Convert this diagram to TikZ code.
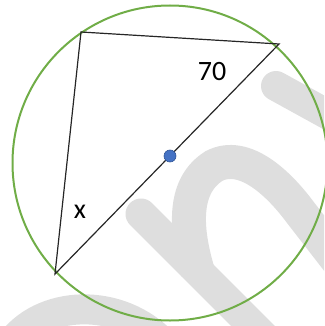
\documentclass[tikz,border=0pt]{standalone}
\usepackage{fontspec}
\setmainfont{Carlito}
\definecolor{ringgreen}{HTML}{70AD47}
\definecolor{edgegray}{HTML}{262626}
\definecolor{markgray}{HTML}{DEDEDE}
\definecolor{dotblue}{HTML}{4472C4}
\definecolor{dotedge}{HTML}{2F5597}
\tikzset{
  wmark/.style={draw=markgray, line width=34pt, line cap=round},
  ring/.style={draw=ringgreen, line width=2pt},
  side/.style={draw=edgegray, line width=1.2pt},
  centredot/.style={circle, fill=dotblue, draw=dotedge, line width=0.6pt, minimum size=12pt, inner sep=0pt},
  lbl/.style={font=\fontsize{28}{30}\selectfont, text=black, inner sep=0pt}
}
\begin{document}
\begin{tikzpicture}[x=1pt,y=-1pt]
\useasboundingbox (0,0) rectangle (324,326);
\begin{scope}
\clip (0,0) rectangle (324,326);
% watermark
\draw[wmark, line width=30pt] (276,86) -- (345,124);
\draw[wmark, line width=31pt] (141,214) -- (275,348);
\draw[wmark, line width=34pt, line cap=butt] (198,272) .. controls (184,225) and (184,185) .. (214,166)
  .. controls (245,150) and (280,185) .. (300,212) -- (345,270);
\draw[wmark, line width=30pt, line cap=butt] (10,345) .. controls (40,300) and (120,295) .. (165,345);
\end{scope}
% circle and triangle
\coordinate (O) at (170,163);
\draw[ring] (O) circle[radius=157.5];
\coordinate (A) at (81,32);
\coordinate (B) at (279,44);
\coordinate (C) at (55,274);
\draw[side, line join=miter] (B) -- (A) -- (C) -- cycle;
\node[centredot] (D) at (170,156) {};
\node[lbl] (L70) at (212,72) {70};
\node[lbl] (Lx) at (80,212) {x};
\end{tikzpicture}
\end{document}
